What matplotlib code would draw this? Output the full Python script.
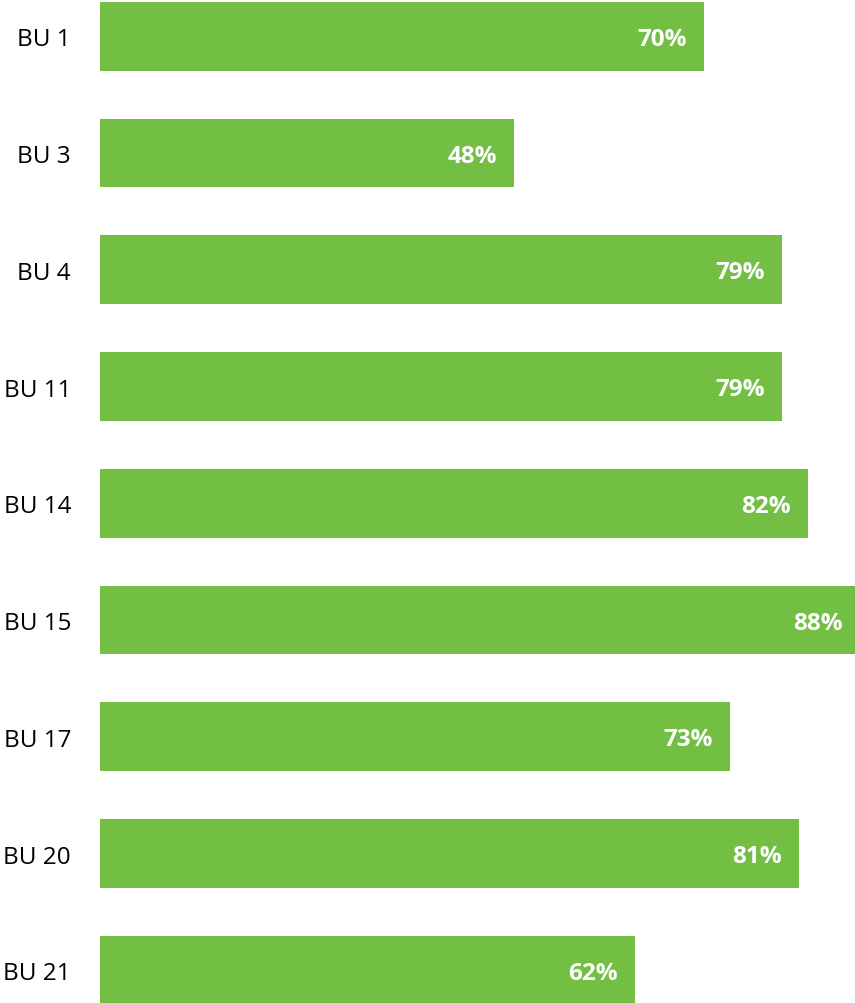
import matplotlib
matplotlib.use("Agg")
import matplotlib.pyplot as plt

units = ["BU 1", "BU 3", "BU 4", "BU 11", "BU 14", "BU 15", "BU 17", "BU 20", "BU 21"]
shares = [70, 48, 79, 79, 82, 88, 73, 81, 62]

plt.rcParams["font.family"] = ["Open Sans", "DejaVu Sans"]

DPI = 100
fig = plt.figure(figsize=(8.55, 10.04), dpi=DPI)
ax = fig.add_axes([100 / 855, 0, 755 / 855, 1])

pos = list(range(len(units)))
bars = ax.barh(pos, shares, height=0.59, color="#72BF44", edgecolor="none")

step = 116.75
first = 37.3
ax.set_xlim(0, 87.5)
ax.set_ylim((1004 - first) / step, -first / step)

# value labels sit inside the right end of each bar
for bar, v in zip(bars, shares):
    ax.annotate(f"{v}%", xy=(v, bar.get_y() + bar.get_height() / 2),
                xytext=(-17 * 72 / DPI, -2.5 * 72 / DPI), textcoords="offset points",
                ha="right", va="center", color="white", fontsize=17.5,
                fontweight="bold", annotation_clip=False, clip_on=True)

ax.set_yticks(pos)
ax.set_yticklabels(units, fontsize=17.5, color="black")
ax.tick_params(axis="y", length=0, pad=29 * 72 / DPI)
ax.set_xticks([])
for s in ax.spines.values():
    s.set_visible(False)

fig.savefig("out.png", dpi=DPI, facecolor="white")
